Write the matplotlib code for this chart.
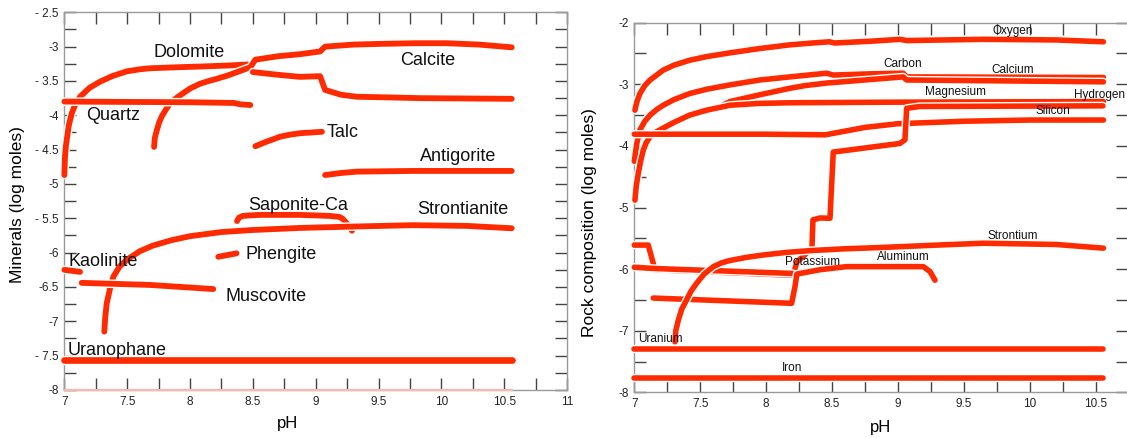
import numpy as np
import matplotlib
matplotlib.use("Agg")
import matplotlib.pyplot as plt
import matplotlib.patheffects as pe
from matplotlib.ticker import MultipleLocator

plt.rcParams['font.family'] = ['Liberation Sans', 'DejaVu Sans']

RED = '#ff2a00'

# ---------- left panel: minerals (log moles) vs pH ----------
dolomite_x = [7.0, 7.005, 7.012, 7.019, 7.035, 7.059, 7.09, 7.125, 7.2, 7.284, 7.38, 7.496, 7.6, 7.68, 7.9, 8.08, 8.3, 8.46]
dolomite_y = [-4.87, -4.6, -4.45, -4.36, -4.15, -3.97, -3.83, -3.73, -3.6, -3.51, -3.43, -3.36, -3.33, -3.315, -3.30, -3.29, -3.275, -3.26]

calcite_x = [7.714, 7.72, 7.737, 7.755, 7.777, 7.81, 7.84, 7.89, 7.944, 8.0, 8.08, 8.15, 8.21, 8.3, 8.36, 8.48,
             8.52, 8.7, 8.875, 9.035, 9.075, 9.3, 9.51, 9.8, 10.04, 10.3, 10.56]
calcite_y = [-4.46, -4.33, -4.21, -4.1, -4.01, -3.91, -3.83, -3.75, -3.68, -3.61, -3.54, -3.5, -3.47, -3.42, -3.38, -3.30,
             -3.19, -3.14, -3.11, -3.07, -3.0, -2.97, -2.96, -2.95, -2.95, -2.97, -3.01]

dolo2_x = [8.50, 8.7, 8.875, 9.035, 9.075, 9.2, 9.33, 9.6, 9.83, 10.2, 10.56]
dolo2_y = [-3.37, -3.41, -3.44, -3.43, -3.63, -3.70, -3.73, -3.74, -3.75, -3.755, -3.76]

quartz_x = [7.0, 8.0, 8.35, 8.40, 8.48]
quartz_y = [-3.80, -3.81, -3.82, -3.84, -3.85]

talc_x = [8.52, 8.6, 8.72, 8.8, 8.88, 9.05]
talc_y = [-4.45, -4.39, -4.31, -4.28, -4.26, -4.24]

antigorite_x = [9.075, 9.2, 9.33, 9.77, 10.56]
antigorite_y = [-4.87, -4.84, -4.82, -4.81, -4.81]

saponite_x = [8.374, 8.39, 8.42, 8.5, 8.557, 8.875, 9.114, 9.19, 9.217, 9.25, 9.289]
saponite_y = [-5.54, -5.49, -5.465, -5.455, -5.45, -5.45, -5.465, -5.48, -5.51, -5.58, -5.68]

strontianite_x = [7.318, 7.325, 7.337, 7.36, 7.39, 7.44, 7.5, 7.6, 7.7, 7.85, 8.0, 8.25, 8.5, 8.875, 9.3, 9.77, 10.2, 10.56]
strontianite_y = [-7.15, -6.95, -6.74, -6.55, -6.35, -6.2, -6.1, -5.98, -5.9, -5.82, -5.76, -5.7, -5.67, -5.64, -5.62, -5.60, -5.61, -5.645]

kaolinite_x = [7.0, 7.125]
kaolinite_y = [-6.25, -6.28]

muscovite_x = [7.138, 7.68, 8.185]
muscovite_y = [-6.44, -6.47, -6.53]

phengite_x = [8.225, 8.37]
phengite_y = [-6.06, -6.01]

uranophane_x = [7.0, 10.56]
uranophane_y = [-7.57, -7.57]

bottom_x = [7.0, 10.56]
bottom_y = [-8.0, -8.0]

left_labels = ["Dolomite", "Quartz", "Calcite", "Talc", "Antigorite", "Strontianite",
               "Saponite-Ca", "Kaolinite", "Phengite", "Muscovite", "Uranophane"]
left_lab_x = [7.707, 7.173, 9.67, 9.088, 9.83, 9.805, 8.46, 7.03, 8.44, 8.286, 7.03]
left_lab_y = [-3.09, -4.0, -3.20, -4.25, -4.60, -5.37, -5.31, -6.13, -6.03, -6.64, -7.42]

left_yticks = [-2.5, -3, -3.5, -4, -4.5, -5, -5.5, -6, -6.5, -7, -7.5, -8]
left_yticklabels = ['- 2.5', '-3', '- 3.5', '-4', '- 4.5', '-5', '- 5.5', '-6', '-6.5', '-7', '- 7.5', '-8']
left_xticks = [7, 7.5, 8, 8.5, 9, 9.5, 10, 10.5, 11]
left_xticklabels = ['7', '7.5', '8', '8.5', '9', '9.5', '10', '10.5', '11']

# ---------- right panel: rock composition (log moles) vs pH ----------
oxygen_x = [7.005, 7.02, 7.043, 7.08, 7.12, 7.17, 7.22, 7.3, 7.42, 7.55, 7.726, 7.95, 8.18, 8.35, 8.48, 8.52, 8.8,
            9.016, 9.067, 9.648, 10.2, 10.56]
oxygen_y = [-3.42, -3.28, -3.15, -3.02, -2.93, -2.85, -2.77, -2.69, -2.61, -2.55, -2.49, -2.42, -2.36, -2.33, -2.31,
            -2.33, -2.30, -2.27, -2.29, -2.27, -2.28, -2.31]

carbon_x = [7.0, 7.01, 7.02, 7.043, 7.08, 7.12, 7.17, 7.22, 7.3, 7.42, 7.55, 7.726, 7.953, 8.18, 8.46, 8.51, 8.8,
            9.04, 9.067, 10.56]
carbon_y = [-4.25, -4.1, -3.95, -3.74, -3.6, -3.50, -3.41, -3.34, -3.25, -3.15, -3.08, -3.01, -2.93, -2.88, -2.82,
            -2.85, -2.83, -2.82, -2.88, -2.89]

calcium_x = [7.68, 7.726, 7.85, 7.953, 8.18, 8.3, 8.46, 8.75, 9.04, 9.067, 10.56]
calcium_y = [-3.33, -3.28, -3.22, -3.17, -3.065, -3.02, -2.98, -2.93, -2.88, -2.93, -2.96]

magnesium_x = [7.005, 7.015, 7.03, 7.048, 7.068, 7.09, 7.12, 7.17, 7.22, 7.3, 7.42, 7.55, 7.726, 7.95, 8.18, 9.0, 10.56]
magnesium_y = [-4.88, -4.65, -4.45, -4.25, -4.07, -3.95, -3.85, -3.77, -3.71, -3.62, -3.50, -3.42, -3.34, -3.31,
               -3.30, -3.29, -3.28]

hydrogen_x = [7.0, 7.106, 7.157, 8.206, 8.234, 8.318, 8.348, 8.356, 8.409, 8.485, 8.51, 9.016, 9.054, 9.067, 9.168, 10.556]
hydrogen_y = [-5.61, -5.61, -6.01, -6.10, -5.885, -5.72, -5.66, -5.20, -5.17, -5.175, -4.10, -3.96, -3.90, -3.39, -3.36, -3.35]

silicon_x = [7.0, 8.0, 8.45, 8.6, 8.75, 9.0, 9.5, 10.0, 10.56]
silicon_y = [-3.81, -3.81, -3.82, -3.76, -3.70, -3.64, -3.60, -3.58, -3.58]

potassium_x = [7.0, 7.15, 8.2]
potassium_y = [-5.97, -5.99, -6.07]

aluminum_x = [7.144, 8.194, 8.219, 8.234, 8.409, 8.61, 9.193, 9.244, 9.282]
aluminum_y = [-6.47, -6.555, -6.29, -6.08, -6.01, -5.96, -5.96, -6.04, -6.18]

strontium_x = [7.309, 7.315, 7.334, 7.36, 7.397, 7.43, 7.473, 7.53, 7.60, 7.66, 7.726, 7.85, 7.98, 8.15, 8.333, 8.6,
               8.864, 9.3, 9.648, 10.2, 10.56]
strontium_y = [-7.18, -7.0, -6.83, -6.65, -6.50, -6.36, -6.23, -6.08, -5.96, -5.9, -5.86, -5.81, -5.77, -5.73, -5.70,
               -5.67, -5.65, -5.61, -5.58, -5.60, -5.66]

uranium_x = [7.0, 10.56]
uranium_y = [-7.30, -7.30]

iron_x = [7.0, 10.56]
iron_y = [-7.76, -7.76]

right_labels = ["Oxygen", "Carbon", "Calcium", "Magnesium", "Hydrogen", "Silicon",
                "Strontium", "Aluminum", "Potassium", "Iron"]
right_lab_x = [9.87, 9.04, 9.87, 9.44, 10.53, 10.18, 9.87, 9.04, 8.355, 8.197]
right_lab_y = [-2.14, -2.67, -2.76, -3.12, -3.18, -3.43, -5.47, -5.81, -5.89, -7.60]

right_yticks = [-2, -3, -4, -5, -6, -7, -8]
right_yticklabels = ['-2', '-3', '-4', '-5', '-6', '-7', '-8']
right_xticks = [7, 7.5, 8, 8.5, 9, 9.5, 10, 10.5]
right_xticklabels = ['7', '7.5', '8', '8.5', '9', '9.5', '10', '10.5']


def redline(ax, x, y, lw=4.2, color=RED):
    """draws one thick red curve with a thin white halo, like the original"""
    ax.plot(x, y, color=color, lw=lw, solid_capstyle='round', solid_joinstyle='round',
            path_effects=[pe.Stroke(linewidth=lw + 2.0, foreground='white'), pe.Normal()],
            clip_on=False, zorder=3)


def style_axes(ax, minor_y):
    for s in ax.spines.values():
        s.set_color('#9a9a9a')
        s.set_linewidth(1.0)
    ax.xaxis.set_minor_locator(MultipleLocator(0.25))
    ax.yaxis.set_minor_locator(MultipleLocator(minor_y))
    ax.tick_params(which='both', direction='in', top=True, right=True,
                   length=8.5, width=1.0, color='#444444', labelsize=8.5,
                   labelcolor='#222222')
    ax.tick_params(axis='y', pad=4)
    ax.tick_params(axis='x', pad=4)


fig = plt.figure(figsize=(11.27, 4.38), dpi=100)

# left panel
ax1 = fig.add_axes([0.0571, 0.1096, 0.4460, 0.8623])
ax1.set_xlim(7, 11)
ax1.set_ylim(-8, -2.5)
ax1.plot(bottom_x, bottom_y, color='#ffb4b4', lw=1.5, zorder=4, clip_on=False)
for xs, ys in [(dolomite_x, dolomite_y), (calcite_x, calcite_y), (dolo2_x, dolo2_y),
               (quartz_x, quartz_y), (talc_x, talc_y), (antigorite_x, antigorite_y),
               (saponite_x, saponite_y), (strontianite_x, strontianite_y),
               (kaolinite_x, kaolinite_y), (muscovite_x, muscovite_y),
               (phengite_x, phengite_y)]:
    redline(ax1, xs, ys, lw=4.2)
redline(ax1, uranophane_x, uranophane_y, lw=4.8)
for t, x, y in zip(left_labels, left_lab_x, left_lab_y):
    ax1.text(x, y, t, fontsize=13, ha='left', va='center', color='#111111', zorder=5)
ax1.set_xticks(left_xticks)
ax1.set_xticklabels(left_xticklabels)
ax1.set_yticks(left_yticks)
ax1.set_yticklabels(left_yticklabels)
style_axes(ax1, 0.25)
fig.text(0.0151, 0.532, "Minerals (log moles)", rotation=90, ha='center', va='center', fontsize=12.5)
fig.text(0.2547, 0.032, "pH", ha='center', va='center', fontsize=12)

# right panel
ax2 = fig.add_axes([0.5628, 0.1043, 0.4385, 0.8439])
ax2.set_xlim(7, 10.75)
ax2.set_ylim(-8, -2)
for xs, ys in [(oxygen_x, oxygen_y), (carbon_x, carbon_y), (calcium_x, calcium_y),
               (magnesium_x, magnesium_y), (silicon_x, silicon_y), (hydrogen_x, hydrogen_y),
               (potassium_x, potassium_y), (aluminum_x, aluminum_y),
               (strontium_x, strontium_y), (uranium_x, uranium_y), (iron_x, iron_y)]:
    redline(ax2, xs, ys, lw=4.0)
for t, x, y in zip(right_labels, right_lab_x, right_lab_y):
    ax2.text(x, y, t, fontsize=8.5, ha='center', va='center', color='#111111', zorder=5)
ax2.text(7.026, -7.14, "Uranium", fontsize=8.5, ha='left', va='center', color='#111111', zorder=5)
ax2.set_xticks(right_xticks)
ax2.set_xticklabels(right_xticklabels)
ax2.set_yticks(right_yticks)
ax2.set_yticklabels(right_yticklabels)
style_axes(ax2, 0.5)
fig.text(0.5235, 0.493, "Rock composition (log moles)", rotation=90, ha='center', va='center', fontsize=12.5)
fig.text(0.781, 0.023, "pH", ha='center', va='center', fontsize=12)

fig.savefig("out.png", dpi=100)
